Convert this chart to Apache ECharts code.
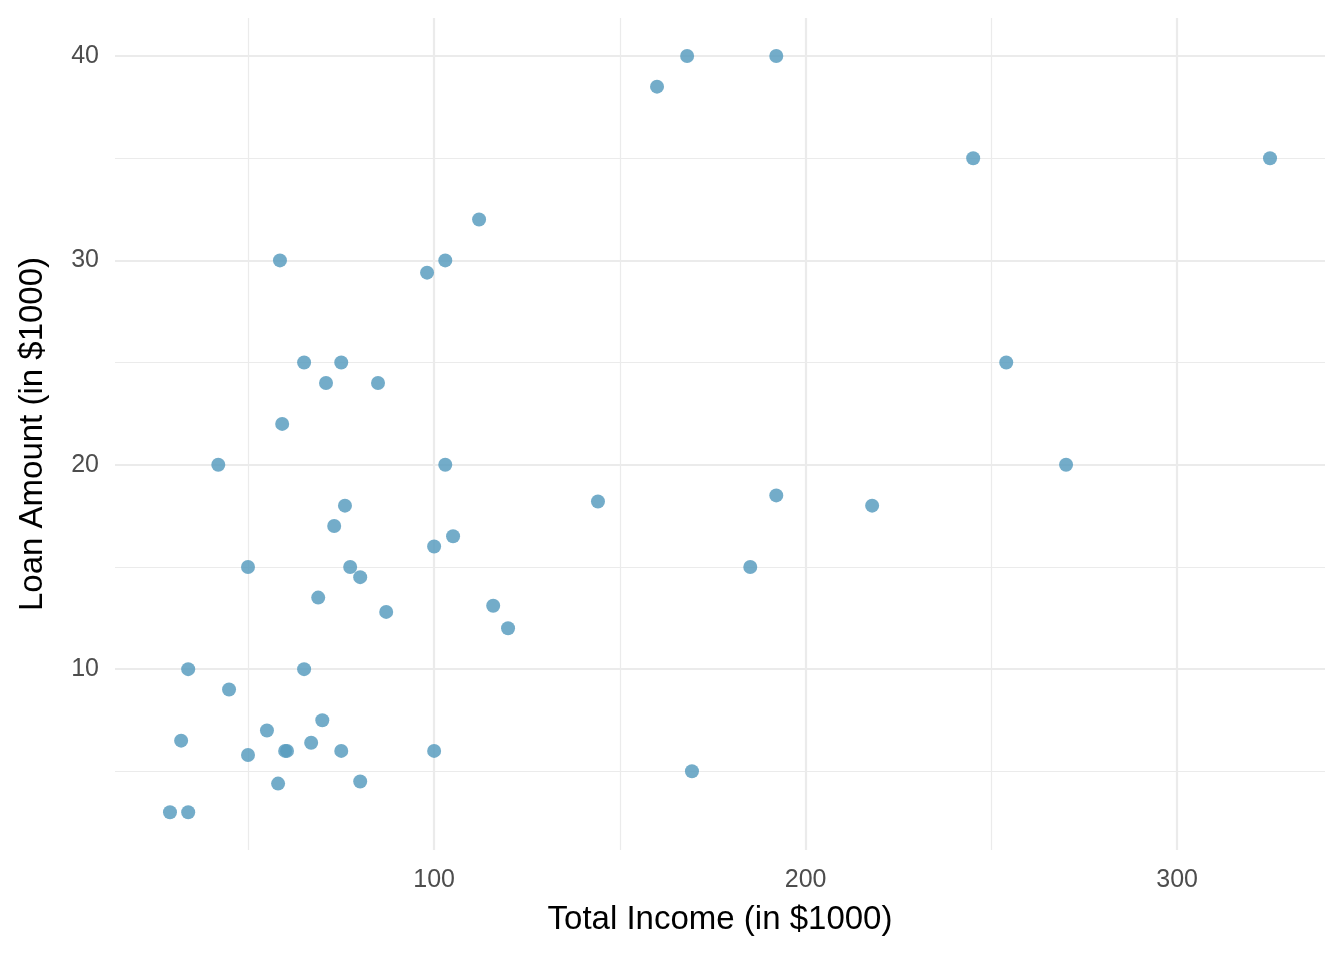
<!DOCTYPE html>
<html><head><meta charset="utf-8">
<script src="https://cdn.jsdelivr.net/npm/echarts@6/dist/echarts.min.js"></script>
<style>html,body{margin:0;padding:0;background:#fff}#c{width:1344px;height:960px}</style>
</head><body><div id="c"></div>
<script>
const income = [168.1,192.1,160,245.1,325,112.1,58.5,103,98.1,65,75,254,70.9,84.9,59.1,41.9,103,270.1,144.1,192.1,217.9,76,73.1,105.1,100,49.9,77.4,185.1,80.1,68.8,115.9,87.1,119.9,33.8,65,44.8,69.9,55,31.9,66.9,59.9,60.4,75,100,49.9,169.4,58,80.1,28.9,33.8];
const loan = [40,40,38.5,35,35,32,30,30,29.4,25,25,25,24,24,22,20,20,20,18.2,18.5,18,18,17,16.5,16,15,15,15,14.5,13.5,13.1,12.8,12,10,10,9,7.5,7,6.5,6.4,6,6,6,6,5.8,5,4.4,4.5,3,3];
const xMajor = [100,200,300];
const xMinor = [50,150,250];
const yMajor = [10,20,30,40];
const yMinor = [5,15,25,35];
const pts = income.map((v,i)=>[v,loan[i]]);
const line = (arr, axis, w) => arr.map(v => ({[axis]: v, lineStyle:{color:'#ebebeb', width:w, type:'solid'}}));
const chart = echarts.init(document.getElementById('c'));
chart.setOption({
  animation:false,
  grid:{left:115,right:19,top:18,bottom:110},
  xAxis:{type:'value',min:14.1,max:339.8,name:'Total Income (in $1000)',nameLocation:'middle',nameGap:53,
    nameTextStyle:{fontSize:33,color:'#000',fontFamily:'Liberation Sans'},
    axisLine:{show:false},axisTick:{show:false},splitLine:{show:false},
    axisLabel:{customValues:xMajor,fontSize:25,color:'#4d4d4d',fontFamily:'Liberation Sans',margin:18}},
  yAxis:{type:'value',min:1.15,max:41.86,name:'Loan Amount (in $1000)',nameLocation:'middle',nameGap:66,
    nameTextStyle:{fontSize:33,color:'#000',fontFamily:'Liberation Sans'},
    axisLine:{show:false},axisTick:{show:false},splitLine:{show:false},
    axisLabel:{customValues:yMajor,fontSize:25,color:'#4d4d4d',fontFamily:'Liberation Sans',margin:16}},
  series:[{type:'scatter',data:pts,symbolSize:14,z:3,
    itemStyle:{color:'#5a9ec0',opacity:0.85},
    markLine:{silent:true,symbol:'none',label:{show:false},z:1,
      data:[...line(xMinor,'xAxis',1.2),...line(xMajor,'xAxis',2.2),...line(yMinor,'yAxis',1.2),...line(yMajor,'yAxis',2.2)]}}]
});
</script></body></html>
